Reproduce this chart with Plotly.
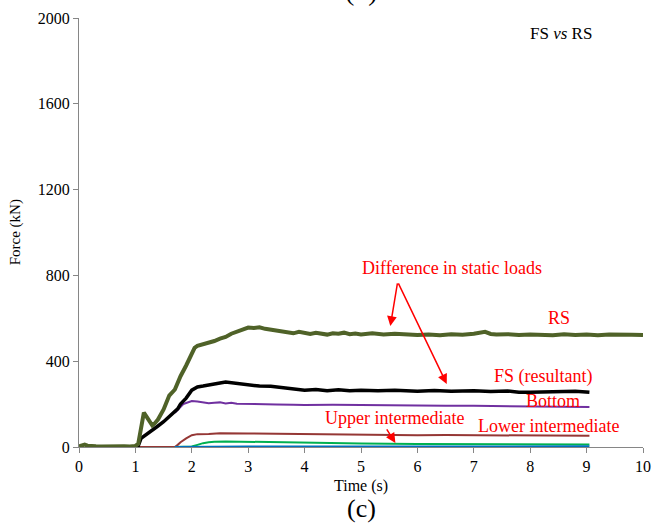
import plotly.graph_objects as go

# ---- data ----
rs_t = [0, 0.05, 0.1, 0.15, 0.2, 0.3, 0.4, 0.5, 0.6, 0.7, 0.8, 0.9, 1.0, 1.05, 1.1, 1.15, 1.2, 1.25, 1.3, 1.35,
        1.4, 1.5, 1.6, 1.7, 1.8, 1.9, 2.0, 2.05, 2.1, 2.2, 2.3, 2.4, 2.5, 2.6, 2.7, 2.8, 2.9, 3.0, 3.1, 3.2,
        3.3, 3.4, 3.5, 3.6, 3.7, 3.8, 3.9, 4.0, 4.1, 4.2, 4.3, 4.4, 4.5, 4.6, 4.7, 4.8, 4.9, 5.0, 5.2, 5.4,
        5.6, 5.8, 6.0, 6.2, 6.4, 6.6, 6.8, 7.0, 7.1, 7.2, 7.3, 7.4, 7.6, 7.8, 8.0, 8.2, 8.4, 8.6, 8.8, 9.0,
        9.2, 9.4, 9.6, 9.8, 10.0]
rs_v = [3, 8, 11, 6, 4, 3, 2, 3, 2, 2, 3, 2, 5, 15, 90, 160, 140, 115, 100, 112,
        128, 175, 240, 268, 330, 380, 440, 462, 472, 478, 484, 494, 505, 513, 528, 538, 548, 557, 555, 558,
        551, 547, 545, 537, 534, 530, 537, 530, 527, 532, 529, 524, 530, 528, 533, 526, 529, 525, 530, 524,
        528, 524, 522, 525, 521, 526, 523, 528, 534, 537, 527, 524, 526, 522, 525, 523, 521, 526, 522, 524,
        521, 525, 522, 523, 522]

fs_t = [1.0, 1.05, 1.1, 1.2, 1.3, 1.4, 1.5, 1.6, 1.7, 1.75, 1.8, 1.9, 2.0, 2.1, 2.2, 2.3, 2.4, 2.5, 2.6, 2.7,
        2.8, 2.9, 3.0, 3.2, 3.4, 3.6, 3.8, 4.0, 4.2, 4.4, 4.6, 4.8, 5.0, 5.3, 5.6, 6.0, 6.3, 6.6, 7.0, 7.3,
        7.6, 7.8, 8.0, 8.3, 8.6, 8.8, 9.05]
fs_v = [0, 5, 40, 58, 78, 98, 118, 140, 165, 178, 200, 228, 265, 280, 284, 290, 292, 298, 303, 300,
        294, 290, 288, 284, 283, 277, 270, 265, 268, 262, 267, 262, 265, 262, 264, 260, 263, 260, 262, 259,
        261, 255, 255, 257, 256, 260, 255]

bot_t = [1.7, 1.75, 1.8, 1.85, 1.9, 2.0, 2.1, 2.2, 2.3, 2.4, 2.5, 2.6, 2.7, 2.8, 3.0, 3.2, 3.5, 3.8, 4.0, 4.5,
         5.0, 5.5, 6.0, 6.5, 7.0, 7.5, 8.0, 8.5, 9.05]
bot_v = [160, 175, 190, 200, 205, 214, 212, 207, 204, 206, 208, 203, 206, 202, 200, 201, 198, 197, 196, 197,
         195, 194, 193, 192, 192, 191, 192, 190, 187]

low_t = [1.05, 1.7, 1.75, 1.8, 1.9, 2.0, 2.1, 2.2, 2.3, 2.5, 2.7, 3.0, 3.5, 4.0, 4.5, 5.0, 5.5, 6.0, 6.5, 7.0,
         7.5, 8.0, 8.5, 9.05]
low_v = [0, 0, 10, 22, 40, 55, 60, 59, 61, 64, 65, 63, 62, 60, 59, 58, 57, 55, 56, 55,
         54, 55, 53, 52]

up_t = [1.7, 2.0, 2.1, 2.2, 2.3, 2.4, 2.6, 2.8, 3.0, 3.5, 4.0, 4.5, 5.0, 6.0, 7.0, 8.0, 9.05]
up_v = [0, 2, 10, 18, 22, 25, 26, 25, 24, 22, 20, 18, 16, 14, 13, 12, 12]

top_t = [1.7, 2.0, 3.0, 4.0, 5.0, 6.0, 7.0, 8.0, 8.3, 9.05]
top_v = [0, 1, 2, 2, 2, 2, 2, 2, 3, 3]

x_ticks = list(range(0, 11))
y_ticks = [0, 400, 800, 1200, 1600, 2000]

FONT = "Times New Roman"
RED = "#FF0000"

fig = go.Figure()
fig.add_trace(go.Scatter(x=low_t, y=low_v, mode="lines", line=dict(color="#953735", width=2), name="Lower intermediate"))
fig.add_trace(go.Scatter(x=bot_t, y=bot_v, mode="lines", line=dict(color="#7030A0", width=2), name="Bottom"))
fig.add_trace(go.Scatter(x=up_t, y=up_v, mode="lines", line=dict(color="#00B050", width=2), name="Upper intermediate"))
fig.add_trace(go.Scatter(x=top_t, y=top_v, mode="lines", line=dict(color="#0070C0", width=2), name="Top"))
fig.add_trace(go.Scatter(x=fs_t, y=fs_v, mode="lines", line=dict(color="#000000", width=3.5), name="FS (resultant)"))
fig.add_trace(go.Scatter(x=rs_t, y=rs_v, mode="lines", line=dict(color="#4F6228", width=4), name="RS"))

axis_common = dict(showgrid=False, zeroline=False, showline=True, linecolor="#868686", linewidth=1,
                   ticks="outside", ticklen=5, tickcolor="#868686",
                   tickfont=dict(family=FONT, size=16, color="black"))
fig.update_xaxes(range=[0, 10], tickvals=x_ticks, **axis_common)
fig.update_yaxes(range=[0, 2000], tickvals=y_ticks, **axis_common)

ann = []
def txt(x, y, s, size=17, color=RED, **kw):
    d = dict(x=x, y=y, text=s, showarrow=False, xanchor="center", yanchor="middle",
             font=dict(family=FONT, size=size, color=color))
    d.update(kw)
    ann.append(d)

txt(6.61, 835, "Difference in static loads", size=18)
txt(8.51, 602, "RS", size=18)
txt(8.23, 327, "FS (resultant)", size=18)
txt(8.41, 215, "Bottom", size=18)
txt(5.59, 135, "Upper intermediate", size=18)
txt(8.32, 98, "Lower intermediate", size=18)
txt(8.39, -79, "Top", size=18)
txt(0.855, 0.965, "FS <i>vs</i> RS", size=17, color="black", xref="paper", yref="paper")
txt(0.5, -0.091, "Time (s)", size=16, color="black", xref="paper", yref="paper")
txt(0.5, -0.144, "(c)", size=26, color="black", xref="paper", yref="paper")
txt(0.5, 1.0, "(b)", size=28, color="black", xref="paper", yref="paper", yanchor="bottom", yshift=10)
txt(-0.112, 0.5, "Force (kN)", size=15, color="black", xref="paper", yref="paper", textangle=-90)

def arrow(x0, y0, x1, y1):
    ann.append(dict(x=x1, y=y1, ax=x0, ay=y0, xref="x", yref="y", axref="x", ayref="y", text="",
                    showarrow=True, arrowhead=2, arrowsize=1.3, arrowwidth=1.5, arrowcolor=RED, standoff=0))

arrow(5.65, 770, 5.52, 564)
arrow(5.65, 770, 6.52, 294)
arrow(5.44, 89, 5.61, 19)

fig.update_layout(width=660, height=524, margin=dict(l=79, r=9, t=18, b=77),
                  plot_bgcolor="white", paper_bgcolor="white", showlegend=False,
                  font=dict(family=FONT), annotations=ann)
fig.write_html("out.html")
